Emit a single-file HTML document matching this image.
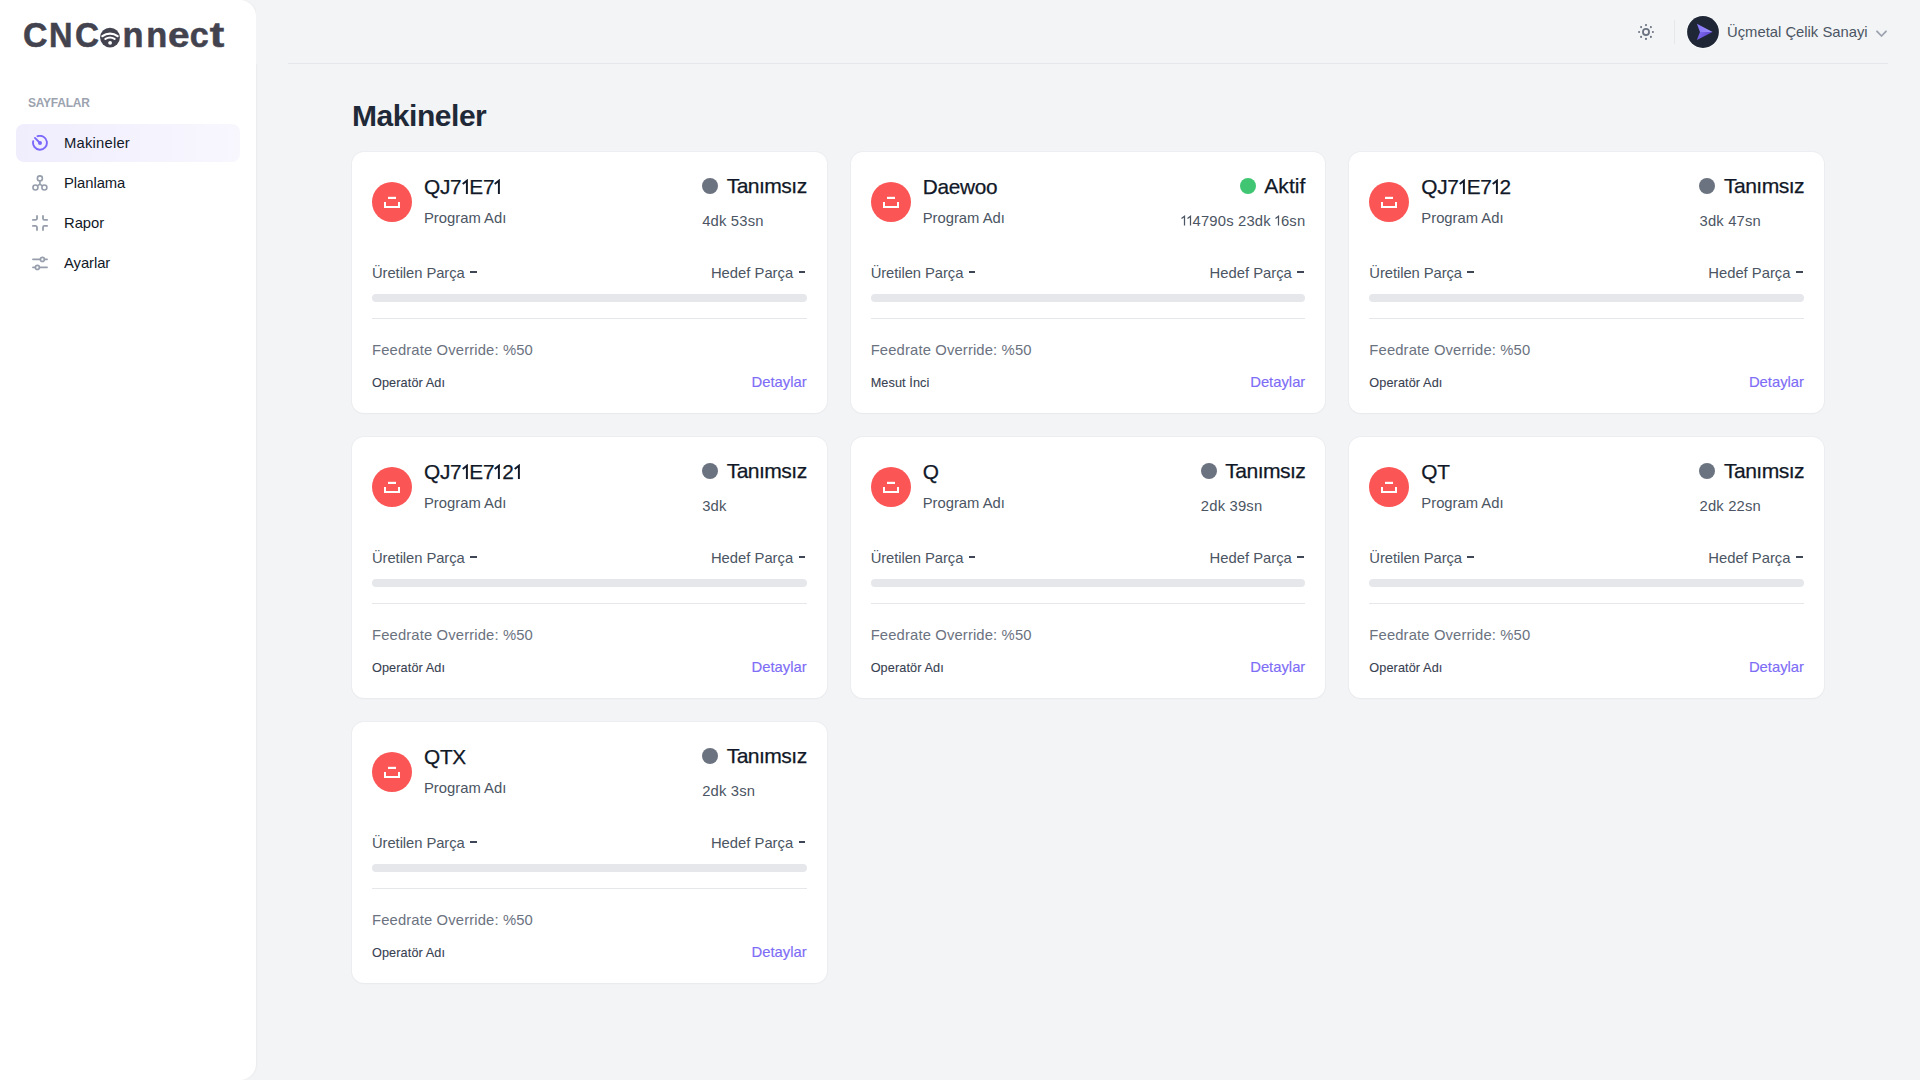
<!DOCTYPE html>
<html lang="tr">
<head>
<meta charset="utf-8">
<title>CNConnect - Makineler</title>
<style>
*{box-sizing:border-box;margin:0;padding:0}
html,body{width:1920px;height:1080px;overflow:hidden}
body{background:#f3f4f6;font-family:"Liberation Sans",sans-serif;color:#111827;position:relative}
.sidebar{position:absolute;left:0;top:0;width:256px;height:1080px;background:#fff;border-radius:0 16px 16px 0;box-shadow:1px 0 2px rgba(0,0,0,0.04)}
.logo{position:absolute;left:0;top:0;width:256px;height:80px}
.sect{position:absolute;left:28px;top:95.8px;font-size:12px;font-weight:bold;color:#9ca3af;line-height:14px;white-space:nowrap;letter-spacing:-0.25px}
.nav{position:absolute;left:16px;width:224px;height:38px;border-radius:8px}
.nav.active{background:linear-gradient(to right,#f0edfd,#f8f7fe)}
.nav svg{position:absolute;left:16px;top:11px}
.nav span{position:absolute;left:48px;top:10.9px;font-size:14.8px;line-height:16px;color:#111827;letter-spacing:-0.05px;white-space:nowrap}
.nav.active span{letter-spacing:0.2px}
.header-line{position:absolute;left:288px;top:63px;width:1600px;height:1px;background:#e5e7eb}
.title{position:absolute;left:352px;top:99.3px;font-size:30px;font-weight:bold;color:#1f2937;line-height:34px;letter-spacing:-0.45px;white-space:nowrap}
.card{position:absolute;width:474.67px;height:261px;background:#fff;border-radius:12px;box-shadow:0 0 0 1px rgba(229,231,235,0.45),0 1px 2px rgba(0,0,0,0.03)}
.ic{position:absolute;left:20px;top:30px;width:40px;height:40px;border-radius:50%;background:#fb5555}
.ic svg{position:absolute;left:0;top:0}
.name{position:absolute;left:72px;top:22.9px;font-size:20.8px;letter-spacing:-0.3px;line-height:24px;color:#111827;white-space:nowrap;-webkit-text-stroke:0.25px #111827}
.one{display:inline-block;vertical-align:baseline;margin:0 0.8px 0 0.3px}
.prog{position:absolute;left:72px;top:57.8px;font-size:14.8px;line-height:16px;color:#4b5563;white-space:nowrap}
.stat{position:absolute;right:20px;top:21.7px;display:flex;flex-direction:column}
.srow{display:flex;justify-content:flex-end;align-items:center;height:24px}
.dot{width:16px;height:16px;border-radius:50%;background:#6b7280;margin-right:8.5px;position:relative;top:0.8px}
.dot.g{background:#40c672}
.stxt{font-size:21.1px;line-height:24px;color:#111827;white-space:nowrap;letter-spacing:-0.55px;-webkit-text-stroke:0.25px #111827}
.stxt.ak{letter-spacing:0}
.time{margin-top:15px;font-size:14.8px;line-height:16px;color:#4b5563;white-space:nowrap;letter-spacing:0.18px}
.t1{display:inline-block;vertical-align:baseline;margin:0 0.9px 0 0.3px}
.parts{position:absolute;left:20px;right:20px;top:112.9px;height:16px;font-size:14.8px;line-height:16px;color:#4b5563;white-space:nowrap}
.parts .l{position:absolute;left:0;top:0;letter-spacing:-0.08px}
.parts .r{position:absolute;right:1.3px;top:0}
.dash{display:inline-block;width:6.7px;height:2px;background:#3f4756;vertical-align:top;margin-top:6.5px;margin-left:5.5px}
.bar{position:absolute;left:20px;right:20px;top:142px;height:8px;border-radius:4px;background:#e5e7eb}
.hr{position:absolute;left:20px;right:20px;top:166px;height:1px;background:#e5e7eb}
.feed{position:absolute;left:20px;top:189.9px;font-size:14.8px;line-height:16px;color:#6b7280;white-space:nowrap;letter-spacing:0.14px}
.op{position:absolute;left:20px;top:224.4px;font-size:12.7px;line-height:14px;color:#374151;white-space:nowrap;letter-spacing:0.1px;-webkit-text-stroke:0.1px #374151}
.det{position:absolute;right:20px;top:221.6px;font-size:14.8px;line-height:16px;color:#7d6cf6;white-space:nowrap;-webkit-text-stroke:0.15px #7d6cf6}
.hdr-name{position:absolute;left:1727px;top:23.9px;font-size:14.8px;line-height:16px;color:#4b5563;white-space:nowrap}
</style>
</head>
<body>
<div class="sidebar">
  <svg class="logo" width="256" height="80" viewBox="0 0 256 80">
    <g fill="#43434f" stroke="#43434f" stroke-width="0.55" font-family="Liberation Sans" font-weight="bold" font-size="35.5">
      <text x="23" y="47.4" textLength="24.5" lengthAdjust="spacingAndGlyphs">C</text>
      <text x="49" y="47.4" textLength="23.5" lengthAdjust="spacingAndGlyphs">N</text>
      <text x="75" y="47.4" textLength="24" lengthAdjust="spacingAndGlyphs">C</text>
      <text x="122.5" y="47.4" textLength="21" lengthAdjust="spacingAndGlyphs">n</text>
      <text x="146.2" y="47.4" textLength="21" lengthAdjust="spacingAndGlyphs">n</text>
      <text x="168" y="47.4" textLength="21.5" lengthAdjust="spacingAndGlyphs">e</text>
      <text x="189.8" y="47.4" textLength="19" lengthAdjust="spacingAndGlyphs">c</text>
      <text x="209.7" y="47.4" textLength="14.5" lengthAdjust="spacingAndGlyphs">t</text>
    </g>
    <circle cx="110" cy="37.6" r="9.9" fill="#43434f"/>
    <g fill="none" stroke="#fff" stroke-linecap="round">
      <path d="M102.4 36.1 A12.6 12.6 0 0 1 117.6 36.1" stroke-width="2.3"/>
      <path d="M105.4 38.9 A8.9 8.9 0 0 1 114.6 38.9" stroke-width="2.1"/>
    </g>
    <circle cx="110.1" cy="42.8" r="1.9" fill="#fff"/>
  </svg>
  <div class="sect">SAYFALAR</div>
  <div class="nav active" style="top:124px">
    <svg width="16" height="16" viewBox="0 0 16 16"><g fill="none" stroke="#7b69fb" stroke-width="1.9" stroke-linecap="round"><path d="M5.6 1.2 A6.95 6.95 0 1 1 1.2 6.1"/><path d="M2.95 2.95 L8 8"/></g><circle cx="8" cy="8" r="2" fill="#7b69fb"/></svg>
    <span>Makineler</span>
  </div>
  <div class="nav" style="top:164px">
    <svg width="16" height="16" viewBox="0 0 16 16"><g fill="none" stroke="#969eac" stroke-width="1.6"><circle cx="7.9" cy="3.4" r="2.5"/><circle cx="3.45" cy="12.5" r="2.5"/><circle cx="12.4" cy="12.5" r="2.5"/><path d="M7.9 5.9 V9.1 L5.5 10.8 M7.9 9.1 L10.3 10.8"/></g></svg>
    <span>Planlama</span>
  </div>
  <div class="nav" style="top:204px">
    <svg width="16" height="16" viewBox="0 0 16 16"><g fill="none" stroke="#969eac" stroke-width="1.8" stroke-linecap="round"><path d="M0.9 4.9 H3.5 A1.5 1.5 0 0 0 5 3.4 V0.9"/><path d="M11 0.9 V3.4 A1.5 1.5 0 0 0 12.5 4.9 H15.1"/><path d="M0.9 10.9 H3.5 A1.5 1.5 0 0 1 5 12.4 V15.1"/><path d="M11 15.1 V12.4 A1.5 1.5 0 0 1 12.5 10.9 H15.1"/></g></svg>
    <span>Rapor</span>
  </div>
  <div class="nav" style="top:244px">
    <svg width="16" height="16" viewBox="0 0 16 16"><g fill="none" stroke="#969eac" stroke-width="1.6" stroke-linecap="round"><path d="M0.9 4.4 H8.4 M12.4 4.4 H15.1"/><circle cx="10.4" cy="4.4" r="2"/><path d="M0.9 12.4 H3.4 M7.4 12.4 H15.1"/><circle cx="5.4" cy="12.4" r="2"/></g></svg>
    <span>Ayarlar</span>
  </div>

<!-- header -->
<div style="position:absolute;left:256px;top:0;width:1664px;height:64px;background:#f3f4f6"></div>
<svg style="position:absolute;left:1636px;top:22px" width="20" height="20" viewBox="0 0 20 20">
  <circle cx="10" cy="10" r="3.05" fill="none" stroke="#6b7280" stroke-width="1.8"/>
  <g fill="#6b7280">
    <circle cx="10" cy="3.1" r="1.05"/><circle cx="10" cy="16.9" r="1.05"/><circle cx="3.1" cy="10" r="1.05"/><circle cx="16.9" cy="10" r="1.05"/>
    <circle cx="5.1" cy="5.1" r="1.05"/><circle cx="14.9" cy="5.1" r="1.05"/><circle cx="5.1" cy="14.9" r="1.05"/><circle cx="14.9" cy="14.9" r="1.05"/>
  </g>
</svg>
<div style="position:absolute;left:1674px;top:20px;width:1px;height:24px;background:#e5e7eb"></div>
<svg style="position:absolute;left:1686px;top:15px" width="34" height="34" viewBox="0 0 34 34">
  <defs><linearGradient id="ag" x1="0" y1="0" x2="1" y2="0.4"><stop offset="0" stop-color="#8270f6"/><stop offset="1" stop-color="#5a40c8"/></linearGradient>
  <linearGradient id="ag2" x1="0" y1="0" x2="1" y2="0"><stop offset="0" stop-color="#8876fb"/><stop offset="1" stop-color="#9d90fb"/></linearGradient></defs>
  <circle cx="17" cy="17" r="16.6" fill="#fff"/>
  <circle cx="17" cy="17" r="15.9" fill="#1f2737"/>
  <path d="M10.9 8.8 L26.6 16.9 L14 16.9 Z" fill="url(#ag2)"/>
  <path d="M14 16.9 L26.6 16.9 L10.9 24.9 Z" fill="url(#ag)"/>
</svg>
<div class="hdr-name">Üçmetal Çelik Sanayi</div>
<svg style="position:absolute;left:1875px;top:29px" width="13" height="10" viewBox="0 0 13 10"><path d="M2 2.3 L6.5 7 L11 2.3" fill="none" stroke="#9ca3af" stroke-width="1.8" stroke-linecap="round" stroke-linejoin="round"/></svg>
<div class="header-line"></div>

<div class="title">Makineler</div>

<!-- CARDS -->
<div class="card" style="left:352px;top:152px">
  <div class="ic"><svg width="40" height="40" viewBox="0 0 40 40"><rect x="16" y="14.8" width="8" height="2.2" fill="#fff"/><path d="M13 20 V25 H27 V20" fill="none" stroke="#fff" stroke-width="2"/></svg></div>
  <div class="name">QJ7<svg class="one" width="7" height="15" viewBox="0 0 7 15"><path d="M0.7 5 L4.9 1.7 V15" fill="none" stroke="#111827" stroke-width="1.95"/></svg>E7<svg class="one" width="7" height="15" viewBox="0 0 7 15"><path d="M0.7 5 L4.9 1.7 V15" fill="none" stroke="#111827" stroke-width="1.95"/></svg></div>
  <div class="prog">Program Adı</div>
  <div class="stat"><div class="srow"><div class="dot"></div><div class="stxt">Tanımsız</div></div><div class="time">4dk 53sn</div></div>
  <div class="parts"><div class="l">Üretilen Parça<span class="dash"></span></div><div class="r">Hedef Parça<span class="dash"></span></div></div>
  <div class="bar"></div>
  <div class="hr"></div>
  <div class="feed">Feedrate Override: %50</div>
  <div class="op">Operatör Adı</div>
  <div class="det">Detaylar</div>
</div>
<div class="card" style="left:850.67px;top:152px">
  <div class="ic"><svg width="40" height="40" viewBox="0 0 40 40"><rect x="16" y="14.8" width="8" height="2.2" fill="#fff"/><path d="M13 20 V25 H27 V20" fill="none" stroke="#fff" stroke-width="2"/></svg></div>
  <div class="name">Daewoo</div>
  <div class="prog">Program Adı</div>
  <div class="stat"><div class="srow"><div class="dot g"></div><div class="stxt ak">Aktif</div></div><div class="time"><svg class="t1" width="4.6" height="10.6" viewBox="0 0 4.6 10.6"><path d="M0.5 3.6 L3.5 1.3 V10.6" fill="none" stroke="#4b5563" stroke-width="1.25"/></svg><svg class="t1" width="4.6" height="10.6" viewBox="0 0 4.6 10.6"><path d="M0.5 3.6 L3.5 1.3 V10.6" fill="none" stroke="#4b5563" stroke-width="1.25"/></svg>4790s 23dk <svg class="t1" width="4.6" height="10.6" viewBox="0 0 4.6 10.6"><path d="M0.5 3.6 L3.5 1.3 V10.6" fill="none" stroke="#4b5563" stroke-width="1.25"/></svg>6sn</div></div>
  <div class="parts"><div class="l">Üretilen Parça<span class="dash"></span></div><div class="r">Hedef Parça<span class="dash"></span></div></div>
  <div class="bar"></div>
  <div class="hr"></div>
  <div class="feed">Feedrate Override: %50</div>
  <div class="op">Mesut İnci</div>
  <div class="det">Detaylar</div>
</div>
<div class="card" style="left:1349.33px;top:152px">
  <div class="ic"><svg width="40" height="40" viewBox="0 0 40 40"><rect x="16" y="14.8" width="8" height="2.2" fill="#fff"/><path d="M13 20 V25 H27 V20" fill="none" stroke="#fff" stroke-width="2"/></svg></div>
  <div class="name">QJ7<svg class="one" width="7" height="15" viewBox="0 0 7 15"><path d="M0.7 5 L4.9 1.7 V15" fill="none" stroke="#111827" stroke-width="1.95"/></svg>E7<svg class="one" width="7" height="15" viewBox="0 0 7 15"><path d="M0.7 5 L4.9 1.7 V15" fill="none" stroke="#111827" stroke-width="1.95"/></svg>2</div>
  <div class="prog">Program Adı</div>
  <div class="stat"><div class="srow"><div class="dot"></div><div class="stxt">Tanımsız</div></div><div class="time">3dk 47sn</div></div>
  <div class="parts"><div class="l">Üretilen Parça<span class="dash"></span></div><div class="r">Hedef Parça<span class="dash"></span></div></div>
  <div class="bar"></div>
  <div class="hr"></div>
  <div class="feed">Feedrate Override: %50</div>
  <div class="op">Operatör Adı</div>
  <div class="det">Detaylar</div>
</div>
<div class="card" style="left:352px;top:437px">
  <div class="ic"><svg width="40" height="40" viewBox="0 0 40 40"><rect x="16" y="14.8" width="8" height="2.2" fill="#fff"/><path d="M13 20 V25 H27 V20" fill="none" stroke="#fff" stroke-width="2"/></svg></div>
  <div class="name">QJ7<svg class="one" width="7" height="15" viewBox="0 0 7 15"><path d="M0.7 5 L4.9 1.7 V15" fill="none" stroke="#111827" stroke-width="1.95"/></svg>E7<svg class="one" width="7" height="15" viewBox="0 0 7 15"><path d="M0.7 5 L4.9 1.7 V15" fill="none" stroke="#111827" stroke-width="1.95"/></svg>2<svg class="one" width="7" height="15" viewBox="0 0 7 15"><path d="M0.7 5 L4.9 1.7 V15" fill="none" stroke="#111827" stroke-width="1.95"/></svg></div>
  <div class="prog">Program Adı</div>
  <div class="stat"><div class="srow"><div class="dot"></div><div class="stxt">Tanımsız</div></div><div class="time">3dk</div></div>
  <div class="parts"><div class="l">Üretilen Parça<span class="dash"></span></div><div class="r">Hedef Parça<span class="dash"></span></div></div>
  <div class="bar"></div>
  <div class="hr"></div>
  <div class="feed">Feedrate Override: %50</div>
  <div class="op">Operatör Adı</div>
  <div class="det">Detaylar</div>
</div>
<div class="card" style="left:850.67px;top:437px">
  <div class="ic"><svg width="40" height="40" viewBox="0 0 40 40"><rect x="16" y="14.8" width="8" height="2.2" fill="#fff"/><path d="M13 20 V25 H27 V20" fill="none" stroke="#fff" stroke-width="2"/></svg></div>
  <div class="name">Q</div>
  <div class="prog">Program Adı</div>
  <div class="stat"><div class="srow"><div class="dot"></div><div class="stxt">Tanımsız</div></div><div class="time">2dk 39sn</div></div>
  <div class="parts"><div class="l">Üretilen Parça<span class="dash"></span></div><div class="r">Hedef Parça<span class="dash"></span></div></div>
  <div class="bar"></div>
  <div class="hr"></div>
  <div class="feed">Feedrate Override: %50</div>
  <div class="op">Operatör Adı</div>
  <div class="det">Detaylar</div>
</div>
<div class="card" style="left:1349.33px;top:437px">
  <div class="ic"><svg width="40" height="40" viewBox="0 0 40 40"><rect x="16" y="14.8" width="8" height="2.2" fill="#fff"/><path d="M13 20 V25 H27 V20" fill="none" stroke="#fff" stroke-width="2"/></svg></div>
  <div class="name">QT</div>
  <div class="prog">Program Adı</div>
  <div class="stat"><div class="srow"><div class="dot"></div><div class="stxt">Tanımsız</div></div><div class="time">2dk 22sn</div></div>
  <div class="parts"><div class="l">Üretilen Parça<span class="dash"></span></div><div class="r">Hedef Parça<span class="dash"></span></div></div>
  <div class="bar"></div>
  <div class="hr"></div>
  <div class="feed">Feedrate Override: %50</div>
  <div class="op">Operatör Adı</div>
  <div class="det">Detaylar</div>
</div>
<div class="card" style="left:352px;top:722px">
  <div class="ic"><svg width="40" height="40" viewBox="0 0 40 40"><rect x="16" y="14.8" width="8" height="2.2" fill="#fff"/><path d="M13 20 V25 H27 V20" fill="none" stroke="#fff" stroke-width="2"/></svg></div>
  <div class="name">QTX</div>
  <div class="prog">Program Adı</div>
  <div class="stat"><div class="srow"><div class="dot"></div><div class="stxt">Tanımsız</div></div><div class="time">2dk 3sn</div></div>
  <div class="parts"><div class="l">Üretilen Parça<span class="dash"></span></div><div class="r">Hedef Parça<span class="dash"></span></div></div>
  <div class="bar"></div>
  <div class="hr"></div>
  <div class="feed">Feedrate Override: %50</div>
  <div class="op">Operatör Adı</div>
  <div class="det">Detaylar</div>
</div>
</body>
</html>
